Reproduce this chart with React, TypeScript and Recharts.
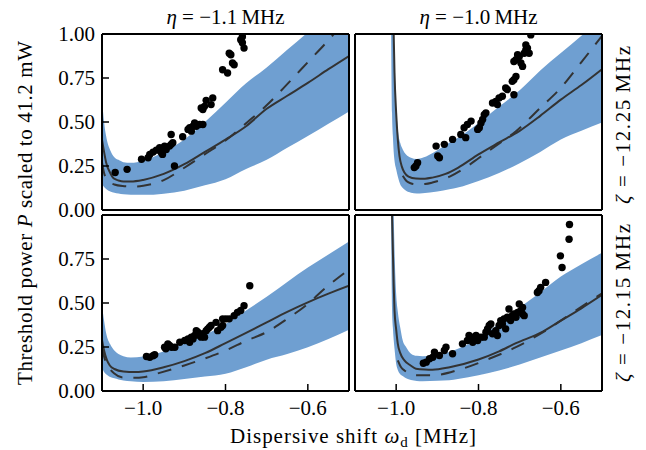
import React from 'react';
import { ComposedChart, XAxis, YAxis, Area, Line, Scatter } from 'recharts';

const FONT = 'Liberation Serif, DejaVu Serif, Times New Roman, serif';
const BLUE = '#6f9fd1';
const INK = '#333333';

const xTicks = [-1.0, -0.8, -0.6];
const yTicks = [0, 0.25, 0.5, 0.75, 1.0];
const colTitles = ['η', 'η'];
const colValues = ['−1.1', '−1.0'];
const rowValues = ['−12.25', '−12.15'];

// ---------- top-left (eta=-1.1, zeta=-12.25) ----------
const tlBandX = [-1.1, -1.095, -1.09, -1.08, -1.07, -1.06, -1.048, -1.03, -1.0, -0.95, -0.9, -0.85, -0.8, -0.75, -0.7, -0.65, -0.6, -0.55, -0.5];
const tlBandHi = [0.63, 0.5, 0.42, 0.34, 0.3, 0.285, 0.272, 0.268, 0.28, 0.33, 0.4, 0.5, 0.61, 0.72, 0.81, 0.91, 1.01, 1.12, 1.22];
const tlBandLo = [0.15, 0.13, 0.12, 0.105, 0.098, 0.094, 0.09, 0.087, 0.086, 0.093, 0.11, 0.14, 0.175, 0.233, 0.285, 0.353, 0.42, 0.49, 0.56];
const tlSolidX = [-1.1, -1.095, -1.09, -1.08, -1.072, -1.06, -1.048, -1.03, -1.0, -0.95, -0.9, -0.85, -0.8, -0.75, -0.7, -0.65, -0.6, -0.55, -0.5];
const tlSolidY = [0.4, 0.33, 0.27, 0.21, 0.18, 0.168, 0.162, 0.162, 0.171, 0.205, 0.26, 0.33, 0.4, 0.476, 0.575, 0.649, 0.722, 0.8, 0.875];
const tlDashX = [-1.1, -1.095, -1.085, -1.07, -1.05, -1.024, -1.0, -0.95, -0.9, -0.85, -0.8, -0.75, -0.7, -0.65, -0.6, -0.55, -0.5];
const tlDashY = [0.27, 0.21, 0.165, 0.145, 0.136, 0.133, 0.138, 0.17, 0.24, 0.317, 0.395, 0.493, 0.595, 0.715, 0.84, 0.965, 1.1];
const tlPtsX = [-1.068, -1.039, -1.004, -0.988, -0.984, -0.976, -0.968, -0.96, -0.956, -0.953, -0.948, -0.944, -0.936, -0.932, -0.932, -0.928, -0.924, -0.904, -0.891, -0.887, -0.883, -0.879, -0.875, -0.871, -0.863, -0.855, -0.859, -0.855, -0.851, -0.847, -0.835, -0.831, -0.807, -0.795, -0.791, -0.787, -0.783, -0.779, -0.763, -0.759, -0.755, -0.759];
const tlPtsY = [0.213, 0.231, 0.288, 0.297, 0.316, 0.329, 0.34, 0.354, 0.326, 0.316, 0.363, 0.344, 0.363, 0.373, 0.429, 0.382, 0.25, 0.416, 0.458, 0.467, 0.448, 0.476, 0.495, 0.476, 0.486, 0.486, 0.58, 0.571, 0.589, 0.623, 0.599, 0.637, 0.797, 0.778, 0.891, 0.882, 0.835, 0.825, 0.967, 0.985, 0.92, 0.95];

// ---------- top-right (eta=-1.0, zeta=-12.25) ----------
const trBandX = [-1.013, -1.01, -1.008, -1.006, -1.004, -1.0, -0.996, -0.99, -0.984, -0.976, -0.964, -0.95, -0.936, -0.9, -0.871, -0.85, -0.8, -0.75, -0.7, -0.65, -0.6, -0.55, -0.5];
const trBandHi = [2.0, 1.4, 1.1, 0.9, 0.75, 0.58, 0.458, 0.38, 0.344, 0.315, 0.297, 0.29, 0.297, 0.34, 0.382, 0.41, 0.495, 0.588, 0.68, 0.793, 0.892, 0.99, 1.09];
const trBandLo = [1.2, 0.55, 0.42, 0.33, 0.28, 0.231, 0.19, 0.145, 0.125, 0.109, 0.098, 0.094, 0.095, 0.105, 0.118, 0.128, 0.165, 0.21, 0.266, 0.33, 0.401, 0.45, 0.497];
const trSolidX = [-1.008, -1.006, -1.004, -1.0, -0.996, -0.992, -0.986, -0.98, -0.97, -0.952, -0.93, -0.912, -0.88, -0.85, -0.8, -0.75, -0.7, -0.65, -0.6, -0.55, -0.5];
const trSolidY = [1.3, 1.0, 0.78, 0.552, 0.4, 0.307, 0.245, 0.213, 0.19, 0.179, 0.178, 0.184, 0.205, 0.24, 0.316, 0.384, 0.45, 0.535, 0.627, 0.71, 0.8];
const trDashX = [-0.984, -0.975, -0.965, -0.95, -0.93, -0.912, -0.87, -0.832, -0.8, -0.759, -0.709, -0.65, -0.6, -0.55, -0.5];
const trDashY = [0.195, 0.165, 0.152, 0.146, 0.148, 0.156, 0.19, 0.241, 0.294, 0.363, 0.448, 0.58, 0.694, 0.84, 0.99];
const trPtsX = [-0.952, -0.948, -0.956, -0.903, -0.899, -0.895, -0.883, -0.863, -0.843, -0.835, -0.831, -0.827, -0.818, -0.802, -0.798, -0.794, -0.79, -0.786, -0.782, -0.766, -0.758, -0.754, -0.75, -0.742, -0.734, -0.73, -0.718, -0.714, -0.709, -0.714, -0.714, -0.709, -0.705, -0.701, -0.697, -0.693, -0.689, -0.685, -0.681, -0.677, -0.673, -0.685];
const trPtsY = [0.25, 0.269, 0.241, 0.363, 0.307, 0.297, 0.373, 0.401, 0.429, 0.467, 0.411, 0.486, 0.505, 0.458, 0.467, 0.495, 0.514, 0.542, 0.552, 0.608, 0.617, 0.599, 0.637, 0.646, 0.693, 0.684, 0.731, 0.74, 0.759, 0.655, 0.844, 0.854, 0.882, 0.872, 0.835, 0.816, 0.891, 0.91, 0.92, 0.891, 0.995, 0.938];

// ---------- bottom-left (eta=-1.1, zeta=-12.15) ----------
const blBandX = [-1.1, -1.095, -1.09, -1.08, -1.07, -1.06, -1.048, -1.03, -1.0, -0.95, -0.9, -0.85, -0.8, -0.75, -0.7, -0.65, -0.6, -0.55, -0.5];
const blBandHi = [0.49, 0.4, 0.33, 0.265, 0.23, 0.21, 0.198, 0.19, 0.196, 0.225, 0.27, 0.32, 0.381, 0.457, 0.535, 0.62, 0.702, 0.776, 0.85];
const blBandLo = [0.13, 0.108, 0.095, 0.08, 0.072, 0.066, 0.06, 0.055, 0.051, 0.055, 0.068, 0.082, 0.098, 0.135, 0.178, 0.21, 0.249, 0.296, 0.348];
const blSolidX = [-1.1, -1.095, -1.088, -1.081, -1.07, -1.048, -1.02, -1.0, -0.95, -0.9, -0.85, -0.8, -0.75, -0.7, -0.65, -0.6, -0.55, -0.5];
const blSolidY = [0.29, 0.23, 0.175, 0.145, 0.125, 0.111, 0.108, 0.111, 0.135, 0.17, 0.215, 0.272, 0.33, 0.39, 0.45, 0.504, 0.553, 0.598];
const blDashX = [-1.1, -1.095, -1.085, -1.07, -1.048, -1.02, -1.0, -0.968, -0.9, -0.85, -0.8, -0.75, -0.7, -0.65, -0.6, -0.565, -0.5];
const blDashY = [0.25, 0.196, 0.14, 0.1, 0.076, 0.075, 0.078, 0.098, 0.145, 0.185, 0.23, 0.285, 0.335, 0.41, 0.495, 0.57, 0.69];
const blPtsX = [-0.992, -0.984, -0.976, -0.972, -0.948, -0.945, -0.94, -0.936, -0.931, -0.923, -0.911, -0.899, -0.891, -0.887, -0.883, -0.879, -0.875, -0.871, -0.867, -0.863, -0.859, -0.855, -0.851, -0.847, -0.843, -0.839, -0.835, -0.823, -0.819, -0.811, -0.807, -0.807, -0.799, -0.791, -0.779, -0.771, -0.763, -0.755, -0.741];
const blPtsY = [0.196, 0.192, 0.2, 0.206, 0.249, 0.24, 0.268, 0.259, 0.249, 0.249, 0.277, 0.287, 0.296, 0.277, 0.306, 0.296, 0.315, 0.343, 0.334, 0.315, 0.306, 0.325, 0.306, 0.343, 0.353, 0.362, 0.372, 0.39, 0.343, 0.362, 0.372, 0.41, 0.41, 0.41, 0.428, 0.447, 0.457, 0.485, 0.598];

// ---------- bottom-right (eta=-1.0, zeta=-12.15) ----------
const brBandX = [-1.013, -1.01, -1.008, -1.006, -1.004, -1.0, -0.996, -0.99, -0.984, -0.976, -0.964, -0.95, -0.936, -0.9, -0.871, -0.85, -0.8, -0.75, -0.7, -0.65, -0.6, -0.55, -0.5];
const brBandHi = [2.0, 1.5, 1.2, 1.0, 0.8, 0.551, 0.45, 0.36, 0.287, 0.25, 0.212, 0.2, 0.198, 0.205, 0.221, 0.24, 0.297, 0.385, 0.475, 0.56, 0.65, 0.72, 0.785];
const brBandLo = [1.2, 0.46, 0.36, 0.29, 0.24, 0.155, 0.12, 0.095, 0.085, 0.072, 0.062, 0.057, 0.055, 0.058, 0.061, 0.068, 0.089, 0.117, 0.15, 0.19, 0.23, 0.272, 0.318];
const brSolidX = [-1.011, -1.009, -1.006, -1.004, -1.0, -0.996, -0.99, -0.98, -0.965, -0.952, -0.93, -0.912, -0.87, -0.8, -0.75, -0.709, -0.65, -0.6, -0.55, -0.5];
const brSolidY = [1.1, 0.9, 0.6, 0.457, 0.35, 0.268, 0.215, 0.174, 0.145, 0.127, 0.122, 0.121, 0.135, 0.179, 0.225, 0.272, 0.33, 0.4, 0.47, 0.546];
const brDashX = [-0.996, -0.988, -0.98, -0.965, -0.952, -0.912, -0.839, -0.774, -0.709, -0.637, -0.564, -0.5];
const brDashY = [0.174, 0.135, 0.117, 0.098, 0.089, 0.089, 0.127, 0.183, 0.249, 0.343, 0.457, 0.555];
const brPtsX = [-0.934, -0.927, -0.919, -0.911, -0.907, -0.895, -0.883, -0.879, -0.863, -0.839, -0.827, -0.823, -0.818, -0.814, -0.81, -0.806, -0.802, -0.794, -0.786, -0.782, -0.778, -0.774, -0.77, -0.766, -0.758, -0.754, -0.75, -0.746, -0.742, -0.738, -0.734, -0.73, -0.726, -0.722, -0.718, -0.714, -0.709, -0.705, -0.701, -0.697, -0.693, -0.693, -0.689, -0.657, -0.653, -0.649, -0.637, -0.601, -0.597, -0.58, -0.579];
const brPtsY = [0.158, 0.164, 0.183, 0.192, 0.221, 0.202, 0.23, 0.249, 0.212, 0.268, 0.287, 0.315, 0.306, 0.277, 0.296, 0.315, 0.287, 0.306, 0.306, 0.334, 0.353, 0.372, 0.381, 0.325, 0.343, 0.315, 0.372, 0.4, 0.381, 0.41, 0.353, 0.419, 0.466, 0.4, 0.428, 0.438, 0.419, 0.447, 0.495, 0.457, 0.475, 0.438, 0.428, 0.56, 0.57, 0.589, 0.617, 0.768, 0.702, 0.862, 0.946];

const zip = (xs: number[], ys: number[]) => xs.map((x, i) => ({ x, y: ys[i] }));
const band = (xs: number[], lo: number[], hi: number[]) => xs.map((x, i) => ({ x, r: [lo[i], hi[i]] }));

const fmtX = (v: number) => (v < 0 ? '\u2212' : '') + Math.abs(v).toFixed(1);

const L = 60, R = 12, T = 12, B = 44;
const PW = 247, PH = 176;

const Dot = (p: any) => <circle cx={p.cx} cy={p.cy} r={3.7} fill="#000" />;

type PanelProps = {
  left: number; top: number;
  bx: number[]; blo: number[]; bhi: number[];
  sx: number[]; sy: number[]; dx: number[]; dy: number[];
  px: number[]; py: number[];
  showX: boolean; showY: boolean; hideTopY: boolean;
};

function Panel(p: PanelProps) {
  const axisLine = { stroke: '#000', strokeWidth: 2 };
  const tickLine = { stroke: '#000', strokeWidth: 1.5 };
  const tickStyle = { fontSize: 21, fill: '#000', fontFamily: FONT };
  const fmtY = (v: number) => (p.hideTopY && v >= 1 ? '' : v.toFixed(2));
  return (
    <div style={{ position: 'absolute', left: p.left - L, top: p.top - T }}>
      <ComposedChart width={PW + L + R} height={PH + T + B} margin={{ top: 0, right: 0, bottom: 0, left: 0 }}>
        <XAxis dataKey="x" type="number" domain={[-1.1, -0.5]} ticks={xTicks} interval={0} allowDataOverflow
          height={B} axisLine={axisLine} tickLine={tickLine} tickSize={-7} tickMargin={16}
          tick={p.showX ? tickStyle : false} tickFormatter={fmtX} />
        <XAxis xAxisId="t" orientation="top" dataKey="x" type="number" domain={[-1.1, -0.5]} ticks={xTicks} interval={0} allowDataOverflow
          height={T} axisLine={axisLine} tickLine={tickLine} tickSize={-7} tick={false} />
        <YAxis type="number" domain={[0, 1]} ticks={yTicks} interval={0} allowDataOverflow
          width={L} axisLine={axisLine} tickLine={tickLine} tickSize={-7} tickMargin={14}
          tick={p.showY ? tickStyle : false} tickFormatter={fmtY} />
        <YAxis yAxisId="r" orientation="right" type="number" domain={[0, 1]} ticks={yTicks} interval={0} allowDataOverflow
          width={R} axisLine={axisLine} tickLine={tickLine} tickSize={-7} tick={false} />
        <Area data={band(p.bx, p.blo, p.bhi)} dataKey="r" type="monotone" fill={BLUE} fillOpacity={1} stroke="none" isAnimationActive={false} />
        <Line data={zip(p.sx, p.sy)} dataKey="y" type="monotone" stroke={INK} strokeWidth={2} dot={false} isAnimationActive={false} />
        <Line data={zip(p.dx, p.dy)} dataKey="y" type="monotone" stroke={INK} strokeWidth={2} strokeDasharray="14 11" dot={false} isAnimationActive={false} />
        <Scatter data={zip(p.px, p.py)} dataKey="y" fill="#000" shape={Dot} isAnimationActive={false} />
      </ComposedChart>
    </div>
  );
}

export default function App() {
  const colX = [102 + PW / 2, 355 + PW / 2];
  const rowY = [34 + PH / 2 + 3, 215 + PH / 2];
  return (
    <div style={{ position: 'absolute', left: 0, top: 0, width: 646, height: 450, background: '#fff', overflow: 'hidden' }}>
      <Panel left={102} top={34} bx={tlBandX} blo={tlBandLo} bhi={tlBandHi} sx={tlSolidX} sy={tlSolidY} dx={tlDashX} dy={tlDashY} px={tlPtsX} py={tlPtsY} showX={false} showY={true} hideTopY={false} />
      <Panel left={355} top={34} bx={trBandX} blo={trBandLo} bhi={trBandHi} sx={trSolidX} sy={trSolidY} dx={trDashX} dy={trDashY} px={trPtsX} py={trPtsY} showX={false} showY={false} hideTopY={false} />
      <Panel left={102} top={215} bx={blBandX} blo={blBandLo} bhi={blBandHi} sx={blSolidX} sy={blSolidY} dx={blDashX} dy={blDashY} px={blPtsX} py={blPtsY} showX={true} showY={true} hideTopY={true} />
      <Panel left={355} top={215} bx={brBandX} blo={brBandLo} bhi={brBandHi} sx={brSolidX} sy={brSolidY} dx={brDashX} dy={brDashY} px={brPtsX} py={brPtsY} showX={true} showY={false} hideTopY={true} />
      <svg width={646} height={450} style={{ position: 'absolute', left: 0, top: 0, pointerEvents: 'none' }}
        fontFamily={FONT} fontSize={21} fill="#000">
        {colX.map((cx, i) => (
          <text key={'c' + i} x={cx} y={24} textAnchor="middle">
            <tspan fontStyle="italic">{colTitles[i]}</tspan>
            <tspan>{' = ' + colValues[i] + '\u2009MHz'}</tspan>
          </text>
        ))}
        {rowY.map((cy, i) => (
          <text key={'r' + i} transform={`translate(630, ${cy}) rotate(-90)`} textAnchor="middle" textLength={158}>
            <tspan fontStyle="italic">ζ</tspan>
            <tspan>{' = ' + rowValues[i] + '\u2009MHz'}</tspan>
          </text>
        ))}
        <text transform="translate(32, 213) rotate(-90)" textAnchor="middle" textLength={344}>
          <tspan>Threshold power </tspan>
          <tspan fontStyle="italic">P</tspan>
          <tspan> scaled to 41.2 mW</tspan>
        </text>
        <text x={353} y={443} textAnchor="middle" textLength={246}>
          <tspan>Dispersive shift </tspan>
          <tspan fontStyle="italic">ω</tspan>
          <tspan fontSize={15} dy={4}>d</tspan>
          <tspan dy={-4}> [MHz]</tspan>
        </text>
      </svg>
    </div>
  );
}
